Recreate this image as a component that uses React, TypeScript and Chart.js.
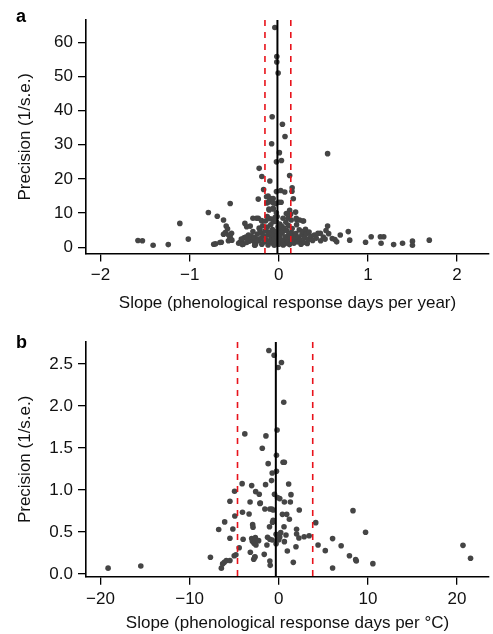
import React, { useEffect, useRef } from 'react';
import { Chart, registerables } from 'chart.js';

Chart.register(...registerables);

// ---------- Panel a: slope in days per year vs precision ----------
const yearSlopes: number[] = [
  -1.58, -1.53, -1.41, -1.24, -1.11, -1.015,
  -0.79, -0.69, -0.62, -0.545,
  -0.73, -0.71, -0.66, -0.645,
  -0.59, -0.575, -0.6, -0.62, -0.53, -0.545, -0.565, -0.55,
  -0.435, -0.415, -0.4, -0.38, -0.36, -0.32, -0.34, -0.29, -0.29, -0.25, -0.23,
  -0.39, -0.37, -0.33, -0.3, -0.27, -0.25, -0.26, -0.22,
  -0.21, -0.19, -0.23, -0.22, -0.19, -0.17, -0.1, -0.08, -0.074, -0.044, -0.022, -0.022, -0.007, 0.041, 0.07, 0.548, 0.007, -0.026, 0.03, 0.122,
  -0.12, -0.1, -0.063, -0.107, 0.0, 0.026, -0.137, -0.089, -0.134, -0.06, -0.03,
  -0.026, 0.022, 0.067, 0.15, 0.148, 0.163,
  -0.193, -0.149, -0.13, -0.082, -0.027, -0.019, -0.06, -0.027, -0.108, -0.063,
  0.085, 0.122, 0.133, 0.189, 0.048, 0.103, 0.14, 0.203, 0.278,
  0.011, 0.022, -0.008, -0.008, -0.008,
  -0.45, -0.42, -0.41, -0.36, -0.35, -0.31, -0.28, -0.27, -0.24, -0.24, -0.22, -0.2, -0.19, -0.18, -0.17, -0.16,
  -0.15, -0.14, -0.13, -0.12, -0.12, -0.11, -0.1, -0.1, -0.09, -0.08, -0.07, -0.07, -0.06, -0.05, -0.05, -0.04,
  -0.03, -0.03, -0.02, 0.0, 0.01, 0.02, 0.03, 0.03, 0.04, 0.05, 0.05, 0.06, 0.07, 0.07, 0.08, 0.09, 0.09, 0.1,
  0.11, 0.11, 0.12, 0.13, 0.14, 0.15, 0.15, 0.16, 0.17, 0.18, 0.19, 0.2, 0.21, 0.22, 0.23, 0.24, 0.25, 0.26,
  0.27, 0.28, 0.29, 0.3, 0.31, 0.32, 0.33, 0.34, 0.36, 0.38, 0.4, 0.42, 0.44, 0.47, 0.5, 0.52, 0.56, 0.6,
  0.63, 0.65, 0.69, 0.78, 0.796, 0.974, 1.037, 1.14, 1.178, 1.148, 1.289, 1.389, 1.5, 1.5, 1.689, 0.548, 0.53, 0.467,
  -0.11, -0.063, 0.196, 0.233, 0.27, -0.526, -0.544, -0.563, -0.267,
];
const yearPrecision: number[] = [
  2.0, 1.9, 0.6, 0.8, 7.0, 2.4,
  10.2, 9.1, 8.0, 12.8,
  0.9, 1.0, 1.4, 1.5,
  6.2, 5.4, 4.3, 3.8, 4.1, 2.6, 1.9, 2.2,
  1.5, 2.1, 0.9, 7.0, 6.0, 6.2, 3.6, 4.6, 8.5, 8.5, 8.5,
  2.8, 3.0, 1.8, 2.1, 1.5, 2.5, 1.0, 2.0,
  5.1, 4.1, 14.1, 23.1, 20.7, 16.9, 19.4, 30.3, 38.2, 64.3, 55.8, 54.2, 51.0, 36.0, 32.4, 27.4, 27.7, 25.0, 25.4, 21.0,
  15.0, 14.1, 14.3, 13.3, 13.2, 13.2, 14.8, 14.3, 13.0, 13.0, 12.8,
  16.3, 16.6, 16.2, 17.4, 16.4, 14.2,
  7.8, 7.7, 9.0, 8.3, 10.1, 9.0, 7.5, 7.5, 10.9, 11.4,
  9.9, 10.8, 9.7, 10.3, 8.5, 8.5, 8.0, 8.0, 7.7,
  6.8, 5.1, 6.0, 4.1, 2.1,
  1.2, 2.4, 0.8, 1.4, 2.6, 3.2, 2.9, 0.6, 1.9, 3.9, 5.6, 2.6, 0.9, 6.3, 3.3, 1.6,
  4.8, 2.2, 5.9, 0.7, 3.6, 8.4, 1.8, 4.4, 6.6, 2.9, 1.2, 5.2, 3.7, 0.6, 2.4, 8.8,
  4.7, 1.5, 3.2, 0.9, 2.7, 3.9, 1.4, 6.2, 4.4, 2.0, 0.7, 5.6, 3.1, 1.1, 7.3, 2.4, 4.9, 1.6,
  3.6, 6.4, 0.8, 2.9, 4.3, 1.9, 5.5, 3.3, 1.2, 2.6, 4.0, 6.6, 1.6, 3.0, 5.1, 2.2, 0.9, 3.7,
  4.6, 1.4, 2.8, 5.3, 3.9, 1.1, 2.3, 4.5, 3.2, 2.0, 3.6, 2.7, 4.1, 1.9, 3.0, 2.4, 4.0, 2.6,
  2.3, 1.6, 3.6, 4.6, 2.1, 1.5, 3.1, 3.1, 3.1, 1.2, 0.8, 1.2, 1.8, 0.6, 2.1, 6.2, 4.9, 4.1,
  11.2, 11.2, 8.5, 8.0, 7.7, 2.1, 2.8, 3.6, 0.7,
];
// mean slope (solid) and its confidence bounds (dashed)
const yearMeanSlope = -0.015;
const yearBounds: number[] = [-0.155, 0.135];
const yearXTicks: number[] = [-2, -1, 0, 1, 2];
const yearYTicks: number[] = [0, 10, 20, 30, 40, 50, 60];

// ---------- Panel b: slope in days per degree C vs precision ----------
const tempSlopes: number[] = [
  -19.15, -15.48, -7.67, -6.74, -6.44, -6.3, -6.11, -5.89, -5.48, -6.07, -5.48, -5.48, -5.15, -4.96, -4.93, -5.0,
  -4.81, -4.44, -4.11, -4.07, -4.0, -3.81, -3.33, -3.22, -3.19, -3.04, -3.04, -2.96, -2.93, -2.89, -2.81, -2.78,
  -2.67, -2.67, -2.63, -2.59, -2.56, -2.26, -2.19, -2.07, -1.85, -1.63, -1.56, -1.48, -1.44, -1.33, -1.26, -1.19,
  -1.11, -1.04, -1.0, -1.0, -1.0, -0.96, -0.81, -0.74, -0.74, -0.7, -0.63, -0.63, -0.52, -0.48, -0.3, -0.3,
  -0.26, -0.26, -0.19, -0.15, -0.15, -0.07, 0.0, 0.11, 0.11, 0.22, 0.3, 0.41, 0.48, 0.56, 0.59, 0.63, 0.63, 0.63,
  0.81, 0.89, 0.96, 1.11, 1.19, 1.3, 1.37, 1.63, 1.93, 2.0, 2.0, 2.26, 2.3, 2.85, 3.41, 4.15, 4.41, 5.22, 6.04,
  6.04, 7.0, 7.93, 8.33, 8.63, 8.7, 9.74, 10.56, 20.67, 21.52, -0.78, -2.11, -2.7,
];
const tempPrecision: number[] = [
  0.07, 0.095, 0.2, 0.53, 0.07, 0.12, 0.14, 0.16, 0.16, 0.62, 0.865, 0.425, 0.536, 0.984, 0.69, 0.218,
  0.23, 0.313, 1.075, 0.734, 0.413, 1.667, 0.714, 0.857, 0.258, 1.052, 0.421, 0.389, 0.587, 0.556, 0.175, 0.365,
  0.206, 0.385, 0.433, 0.98, 0.345, 0.397, 0.948, 0.845, 1.496, 0.234, 0.774, 1.063, 1.643, 0.345, 0.437, 1.313,
  2.659, 0.563, 0.774, 0.413, 0.155, 0.103, 1.111, 1.202, 0.405, 0.615, 0.639, 0.762, 2.603, 0.948, 0.472, 0.361,
  1.413, 1.222, 1.714, 0.909, 0.444, 2.456, 0.409, 0.897, 0.44, 0.492, 2.516, 0.71, 1.329, 2.044, 0.563, 1.329, 0.857, 0.385,
  0.464, 0.71, 0.274, 1.071, 0.651, 0.857, 0.944, 0.139, 0.325, 0.532, 0.476, 0.429, 0.762, 0.444, 0.456, 0.611, 0.345, 0.278, 0.421,
  0.071, 0.337, 0.218, 0.754, 0.171, 0.155, 0.496, 0.123, 0.341, 0.187, 0.774, 0.84, 0.2,
];
const tempMeanSlope = -0.33;
const tempBounds: number[] = [-4.63, 3.81];
const tempXTicks: number[] = [-20, -10, 0, 10, 20];
const tempYTicks: number[] = [0, 0.5, 1.0, 1.5, 2.0, 2.5];

const FONT = '"Liberation Sans", Arial, Helvetica, sans-serif';
const POINT_COLOR = '#454545';
const RED = '#e8131b';

const letterPlugin = {
  id: 'panelLetter',
  afterDraw(chart: any, _args: any, opts: any) {
    const ctx = chart.ctx;
    ctx.save();
    ctx.font = `bold 18px ${FONT}`;
    ctx.fillStyle = '#000';
    ctx.textBaseline = 'alphabetic';
    ctx.textAlign = 'left';
    ctx.fillText(opts.text, opts.x, opts.y);
    ctx.restore();
  },
};

const minus = (v: number) => (v < 0 ? '\u2212' + Math.abs(v) : String(v));

interface PanelProps {
  letter: string;
  letterY: number;
  xs: number[];
  ys: number[];
  mean: number;
  bounds: number[];
  xTicks: number[];
  yTicks: number[];
  yDecimals: number;
  xMin: number;
  xMax: number;
  yMin: number;
  yMax: number;
  xTitle: string;
  top: number;
  height: number;
  areaTop: number;
  xAxisHeight: number;
  xTitlePad: number;
}

function Panel(p: PanelProps) {
  const ref = useRef<HTMLCanvasElement | null>(null);
  useEffect(() => {
    if (!ref.current) return;
    const pts = p.xs.map((x, i) => ({ x, y: p.ys[i] }));
    const vline = (v: number) => [
      { x: v, y: p.yMax },
      { x: v, y: p.yMin },
    ];
    const tickStyle = { color: '#111', font: { family: FONT, size: 17 } };
    const gridStyle = {
      display: true,
      drawOnChartArea: false,
      drawTicks: true,
      tickLength: 8,
      color: '#000',
      lineWidth: 1.3,
    };
    const chart = new Chart(ref.current, {
      type: 'scatter',
      data: {
        datasets: [
          {
            data: vline(p.mean),
            showLine: true,
            borderColor: '#000',
            borderWidth: 2,
            pointRadius: 0,
          },
          ...p.bounds.map((b) => ({
            data: vline(b),
            showLine: true,
            borderColor: RED,
            borderWidth: 1.6,
            borderDash: [6, 6],
            pointRadius: 0,
          })),
          {
            data: pts,
            pointRadius: 2.8,
            pointBackgroundColor: POINT_COLOR,
            pointBorderWidth: 0,
            pointBorderColor: POINT_COLOR,
          },
        ] as any,
      },
      options: {
        responsive: false,
        animation: false,
        devicePixelRatio: 1,
        events: [],
        layout: { padding: { top: p.areaTop, left: 0, right: 0, bottom: 0 } },
        plugins: {
          legend: { display: false },
          tooltip: { enabled: false },
          panelLetter: { text: p.letter, x: 16, y: p.letterY },
        } as any,
        scales: {
          x: {
            type: 'linear',
            min: p.xMin,
            max: p.xMax,
            afterBuildTicks: (s: any) => {
              s.ticks = p.xTicks.map((v) => ({ value: v }));
            },
            afterFit: (s: any) => {
              s.height = p.xAxisHeight;
            },
            ticks: { ...tickStyle, padding: 4, maxRotation: 0, callback: (v: any) => minus(Number(v)) },
            grid: gridStyle,
            border: { display: true, color: '#000', width: 1.6 },
            title: {
              display: true,
              text: p.xTitle,
              color: '#111',
              font: { family: FONT, size: 17 },
              padding: { top: 0, bottom: p.xTitlePad },
            },
          },
          y: {
            type: 'linear',
            min: p.yMin,
            max: p.yMax,
            afterBuildTicks: (s: any) => {
              s.ticks = p.yTicks.map((v) => ({ value: v }));
            },
            afterFit: (s: any) => {
              s.width = 86;
            },
            ticks: {
              ...tickStyle,
              padding: 5,
              callback: (v: any) => Number(v).toFixed(p.yDecimals),
            },
            grid: gridStyle,
            border: { display: true, color: '#000', width: 1.6 },
            title: {
              display: true,
              text: 'Precision (1/s.e.)',
              color: '#111',
              font: { family: FONT, size: 17 },
              padding: { top: 15, bottom: 0 },
            },
          },
        },
      },
      plugins: [letterPlugin],
    } as any);
    return () => chart.destroy();
  }, []);
  return (
    <canvas
      ref={ref}
      width={493}
      height={p.height}
      style={{ position: 'absolute', left: 0, top: p.top, width: 493, height: p.height }}
    />
  );
}

export default function App() {
  return (
    <div style={{ position: 'absolute', left: 0, top: 0, width: 493, height: 634, background: '#fff' }}>
      <Panel
        letter="a"
        letterY={22}
        xs={yearSlopes}
        ys={yearPrecision}
        mean={yearMeanSlope}
        bounds={yearBounds}
        xTicks={yearXTicks}
        yTicks={yearYTicks}
        yDecimals={0}
        xMin={-2.163}
        xMax={2.359}
        yMin={-1.81}
        yMax={66.5}
        xTitle="Slope (phenological response days per year)"
        top={0}
        height={316}
        areaTop={20}
        xAxisHeight={62.5}
        xTitlePad={2.8}
      />
      <Panel
        letter="b"
        letterY={38}
        xs={tempSlopes}
        ys={tempPrecision}
        mean={tempMeanSlope}
        bounds={tempBounds}
        xTicks={tempXTicks}
        yTicks={tempYTicks}
        yDecimals={1}
        xMin={-21.63}
        xMax={23.59}
        yMin={-0.032}
        yMax={2.76}
        xTitle={'Slope (phenological response days per \u00B0C)'}
        top={310}
        height={324}
        areaTop={32}
        xAxisHeight={57.3}
        xTitlePad={0.8}
      />
    </div>
  );
}
